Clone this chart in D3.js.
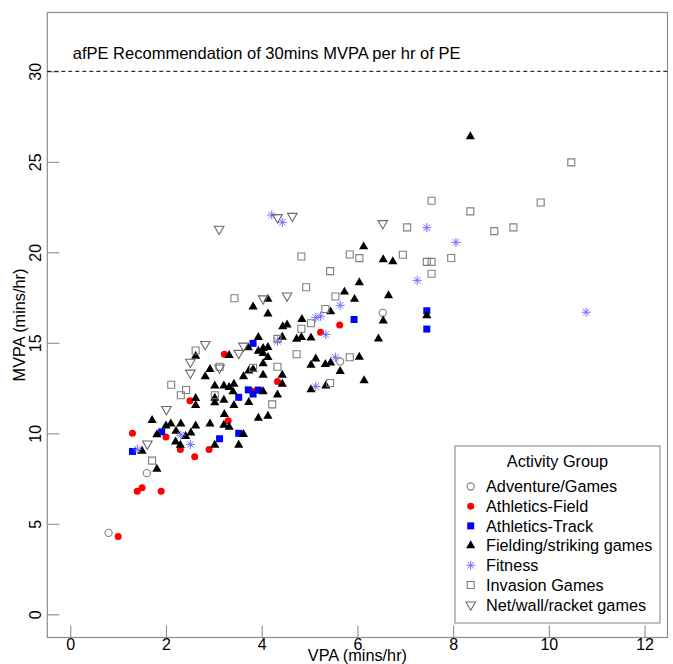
<!DOCTYPE html>
<html><head><meta charset="utf-8">
<script src="https://cdn.jsdelivr.net/npm/d3@7"></script>
<style>body{margin:0;background:#fff}svg{display:block}text{font-family:"Liberation Sans",Arial,sans-serif}</style>
</head><body>
<svg id="c" width="673" height="664"></svg>
<script>
// ---- data (VPA, MVPA) per activity group ----
const groups = ["Adventure/Games","Athletics-Field","Athletics-Track","Fielding/striking games","Fitness","Invasion Games","Net/wall/racket games"];
const adventure = [[0.8,4.5],[1.6,7.8],[6.53,16.66],[5.64,13.97]];
const athleticsField = [[1.0,4.3],[1.4,6.8],[1.5,7.0],[1.9,6.8],[1.3,10.0],[2.0,9.8],[2.3,9.1],[2.6,8.7],[2.9,9.1],[2.5,11.8],[3.3,10.7],[3.22,14.37],[4.33,12.87],[5.63,15.98],[5.23,15.59],[3.82,12.33]];
const athleticsTrack = [[1.3,9.0],[1.91,10.08],[3.12,9.7],[3.52,10.0],[3.52,11.99],[3.72,12.4],[3.82,12.17],[3.93,12.39],[3.82,14.97],[5.93,16.29],[7.45,16.77],[7.45,15.76]];
const fielding = [[1.5,9.02],[1.81,8.03],[1.81,9.93],[1.71,10.72],[2.0,10.42],[2.1,10.52],[2.21,10.13],[2.31,10.52],[2.41,9.83],[2.52,10.03],[2.2,9.53],[2.3,9.35],[2.62,10.42],[2.62,11.93],[2.62,11.55],[2.62,14.27],
 [2.92,10.53],[3.02,9.35],[3.02,11.95],[3.02,11.7],[3.02,12.62],[3.21,12.62],[3.21,11.84],[3.22,11.05],[3.21,10.46],[3.32,10.35],[3.32,12.54],[2.92,13.54],[2.82,13.13],[3.32,14.31],
 [3.42,12.72],[3.4,12.3],[3.42,11.55],[3.52,9.35],[3.62,9.94],[3.62,13.13],[3.73,13.45],[3.73,11.71],[3.72,14.73],
 [3.82,16.99],[3.82,13.54],[3.93,15.3],[3.93,14.55],[3.93,10.84],[4.03,14.7],[4.03,14.42],[4.13,14.75],[4.13,14.2],[4.03,13.85],[4.03,13.22],[4.03,12.31],[4.13,10.95],[4.13,17.41],[4.13,16.6],
 [4.33,12.13],[4.43,12.72],[4.43,13.22],[4.43,15.32],[4.44,15.9],[4.53,16.0],[4.73,15.21],[4.83,15.3],[4.84,16.3],
 [5.03,15.27],[5.03,13.77],[5.03,12.42],[5.13,14.12],[5.33,13.81],[5.44,13.9],[5.34,12.62],[5.44,16.72],[5.64,13.42],[5.73,17.81],
 [5.94,17.41],[6.04,18.33],[6.04,14.21],[6.13,20.31],[6.14,12.92],[6.44,15.22],[6.54,16.22],[6.54,19.6],[6.74,19.49],[6.65,17.61],[7.45,16.5],[8.36,26.4]];
const fitness = [[1.4,9.12],[2.31,9.9],[2.51,9.39],[5.13,12.59],[5.54,14.2],[5.13,16.39],[5.23,16.47],[5.34,15.46],[5.64,17.07],[4.33,15.09],[4.21,22.06],[4.43,21.66],[7.45,21.36],[8.06,20.55],[7.25,18.45],[10.78,16.69]];
const invasion = [[1.71,8.49],[2.11,12.68],[2.42,12.39],[2.31,12.1],[3.02,12.1],[2.62,14.58],[3.12,13.68],[3.43,17.46],[3.82,13.62],[4.22,11.6],[4.33,13.68],[4.33,15.22],[4.73,14.37],[4.83,15.78],[5.03,16.08],[5.33,16.87],[5.54,17.56],[4.93,18.07],[5.43,18.96],[4.83,19.77],[5.84,19.88],[6.04,19.68],[5.84,14.2],[5.43,12.78],
 [6.95,19.87],[7.45,19.47],[7.55,19.47],[7.96,19.69],[7.55,18.82],[7.04,21.38],[7.55,22.85],[8.36,22.26],[8.86,21.17],[9.26,21.38],[9.83,22.75],[10.47,24.97]];
const netwall = [[1.61,9.42],[2.01,11.33],[2.82,14.92],[2.51,13.94],[2.51,13.34],[3.52,14.43],[3.62,14.83],[3.11,21.29],[4.33,21.93],[4.64,22.0],[6.53,21.6],[4.03,17.44],[4.53,17.6],[3.12,13.62]];
const xTicks = [0,2,4,6,8,10,12];
const yTicks = [0,5,10,15,20,25,30];
const recommendation = 30;
const noteText = "afPE Recommendation of 30mins MVPA per hr of PE";
const xTitle = "VPA (mins/hr)", yTitle = "MVPA (mins/hr)", legendTitle = "Activity Group";

const series = [
  {name:groups[0], data:adventure, shape:"circleOpen", color:"#7f7f7f"},
  {name:groups[1], data:athleticsField, shape:"circle", color:"#ff0000"},
  {name:groups[2], data:athleticsTrack, shape:"square", color:"#0000ff"},
  {name:groups[3], data:fielding, shape:"triangle", color:"#000000"},
  {name:groups[4], data:fitness, shape:"star", color:"#7070ff"},
  {name:groups[5], data:invasion, shape:"squareOpen", color:"#7f7f7f"},
  {name:groups[6], data:netwall, shape:"triDownOpen", color:"#6a6a6a"}
];

const svg = d3.select("#c");
const L=47.3, R=667.5, T=12.5, B=637.5;
const x = d3.scaleLinear().domain([-0.48,12.48]).range([L,R]);
const y = d3.scaleLinear().domain([-1.28,33.25]).range([B,T]);
const axisCol = "#8c8c8c";
const FONT = "Liberation Sans, Arial, sans-serif";

function shapePath(shape){
  switch(shape){
    case "circle": case "circleOpen": { const r = shape==="circle"?3.5:3.6;
      return `M${-r},0A${r},${r} 0 1,0 ${r},0A${r},${r} 0 1,0 ${-r},0Z`; }
    case "square": return "M-3.5,-3.5H3.5V3.5H-3.5Z";
    case "squareOpen": return "M-3.5,-3.5H3.5V3.5H-3.5Z";
    case "triangle": { const s=9.2, h=s*Math.sqrt(3)/2; return `M0,${-h*2/3}L${s/2},${h/3}L${-s/2},${h/3}Z`; }
    case "triDownOpen": { const s=9.6, h=s*Math.sqrt(3)/2; return `M0,${h*2/3}L${s/2},${-h/3}L${-s/2},${-h/3}Z`; }
    case "star": { const r=4.6, d=r*Math.SQRT1_2;
      return `M${-r},0H${r}M0,${-r}V${r}M${-d},${-d}L${d},${d}M${-d},${d}L${d},${-d}`; }
  }
}
function styleMark(sel, s){
  const open = /Open/.test(s.shape);
  if (s.shape==="star") sel.attr("fill","none").attr("stroke",s.color).attr("stroke-width",1);
  else if (open) sel.attr("fill","none").attr("stroke",s.color).attr("stroke-width",1.1);
  else sel.attr("fill",s.color).attr("stroke","none");
}

// box
svg.append("rect").attr("x",L).attr("y",T).attr("width",R-L).attr("height",B-T)
  .attr("fill","none").attr("stroke",axisCol).attr("stroke-width",1.2);

// axes (inward ticks)
const gx = svg.append("g").attr("transform",`translate(0,${B})`)
  .call(d3.axisBottom(x).tickValues(xTicks).tickSizeInner(-12).tickSizeOuter(0).tickPadding(1).tickFormat(d3.format("d")));
gx.select(".domain").remove();
gx.selectAll("line").attr("stroke",axisCol).attr("stroke-width",1.1);
gx.selectAll("text").attr("font-size",16).attr("fill","#000").attr("font-family",FONT);

const gy = svg.append("g").attr("transform",`translate(${L},0)`)
  .call(d3.axisLeft(y).tickValues(yTicks).tickSizeInner(-12).tickSizeOuter(0).tickFormat(d3.format("d")));
gy.select(".domain").remove();
gy.selectAll("line").attr("stroke",axisCol).attr("stroke-width",1.1);
gy.selectAll("text").attr("font-size",16).attr("fill","#000").attr("font-family",FONT)
  .attr("x",null).attr("dy",null).attr("text-anchor","middle").attr("transform","translate(-6.2,0) rotate(-90)");

// titles
svg.append("text").attr("x",(L+R)/2).attr("y",660.5).attr("text-anchor","middle").attr("font-size",16.3).text(xTitle);
svg.append("text").attr("transform",`translate(25,${(T+B)/2}) rotate(-90)`).attr("text-anchor","middle").attr("font-size",16.3).text(yTitle);

// recommendation line
svg.append("line").attr("x1",L).attr("x2",R).attr("y1",y(recommendation)).attr("y2",y(recommendation))
  .attr("stroke","#000").attr("stroke-width",1).attr("stroke-dasharray","4,3");
svg.append("text").attr("x",x(0)+2.5).attr("y",y(31)+5.8).attr("font-size",16.5).text(noteText);

// points
series.forEach(s=>{
  const g = svg.append("g");
  g.selectAll("path").data(s.data).join("path")
    .attr("d",shapePath(s.shape))
    .attr("transform",d=>`translate(${x(d[0])},${y(d[1])})`)
    .call(sel=>styleMark(sel,s));
});

// legend
const lg = svg.append("g").attr("transform","translate(455,446)");
lg.append("rect").attr("x",0).attr("y",0).attr("width",205).attr("height",177)
  .attr("fill","#fff").attr("stroke",axisCol).attr("stroke-width",1.1);
lg.append("text").attr("x",102.5).attr("y",21).attr("text-anchor","middle").attr("font-size",16.3).text(legendTitle);
series.forEach((s,i)=>{
  const cy = 40.5 + i*19.7;
  const m = lg.append("path").attr("d",shapePath(s.shape)).attr("transform",`translate(15.7,${cy})`);
  styleMark(m,s);
  lg.append("text").attr("x",31).attr("y",cy+5.8).attr("font-size",16.3).text(s.name);
});
</script>
</body></html>
